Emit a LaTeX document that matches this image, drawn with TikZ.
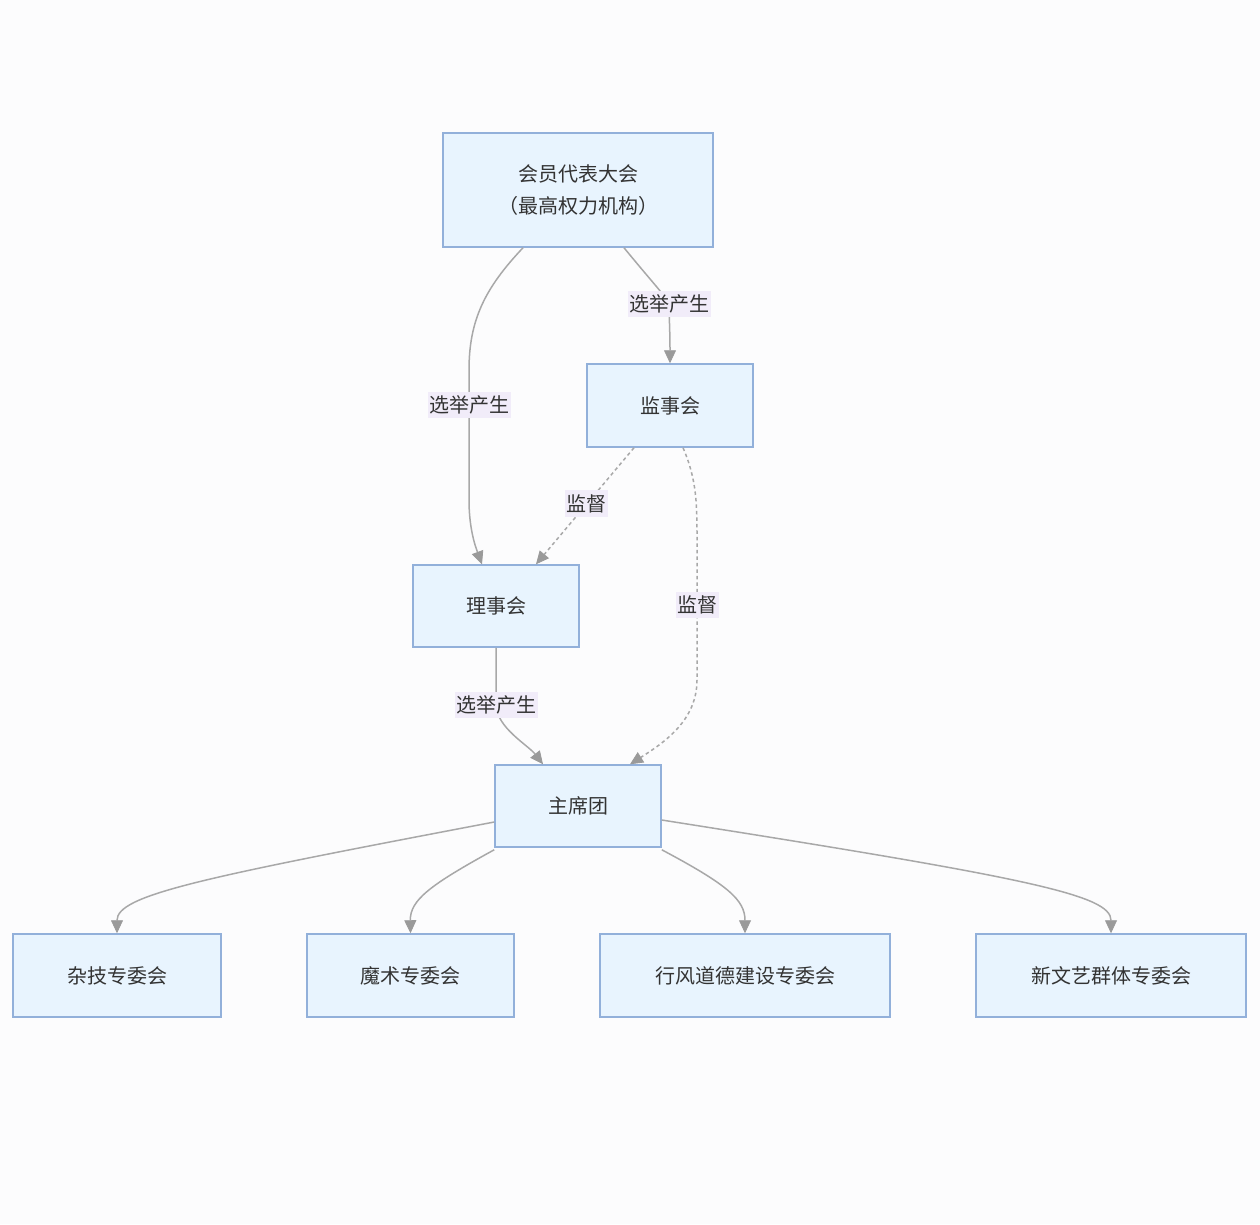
\documentclass[tikz,border=0pt]{standalone}
\usepackage{fontspec}
\setmainfont{Noto Sans CJK SC}
\usetikzlibrary{arrows.meta,calc}
\definecolor{bg}{HTML}{FCFCFD}
\definecolor{boxfill}{HTML}{E8F4FE}
\definecolor{boxline}{HTML}{92B0DA}
\definecolor{edgec}{HTML}{A8A8A8}
\definecolor{tipc}{HTML}{9A9A9A}
\definecolor{lblbg}{HTML}{F1ECF9}
\definecolor{txt}{HTML}{333333}
\begin{document}
\begin{tikzpicture}[x=1pt,y=-1pt,
  box/.style={draw=boxline,fill=boxfill,line width=1.5pt,minimum height=83pt,
    inner sep=0pt,text=txt,font=\fontsize{20}{32}\selectfont,align=center},
  link/.style={draw=edgec,line width=1.5pt,
    -{Triangle[length=13pt,width=12pt,color=tipc,fill=tipc,line width=0.8pt]}},
  dlink/.style={link,dash pattern=on 3.5pt off 3pt},
  lbl/.style={fill=lblbg,text=txt,font=\fontsize{20}{24}\selectfont,
    inner xsep=1.5pt,inner ysep=4pt,solid}
]
\path[fill=bg] (0,0) rectangle (1260,1224);

\node[box,minimum width=270pt,minimum height=114pt] (top) at (578,190)
  {会员代表大会\\（最高权力机构）};
\node[box,minimum width=166pt] (jianshi) at (670,405.5) {监事会};
\node[box,minimum width=166pt,minimum height=82pt] (lishi) at (496,606) {理事会};
\node[box,minimum width=166pt,minimum height=82pt] (zhuxi) at (578,806) {主席团};
\node[box,minimum width=208pt] (zaji) at (117,975.5) {杂技专委会};
\node[box,minimum width=207pt] (moshu) at (410.5,975.5) {魔术专委会};
\node[box,minimum width=290pt] (xingfeng) at (745,975.5) {行风道德建设专委会};
\node[box,minimum width=270pt] (xinwenyi) at (1111,975.5) {新文艺群体专委会};

% top -> lishi
\draw[link] ($(top.south)+(-55,0)$) .. controls (485,288) and (469,320) .. (469,370)
  -- (469,405) node[lbl] {选举产生}
  -- (469,500) .. controls (469,530) and (476,548) .. ($(lishi.north)+(-14,0)$);
% top -> jianshi
\draw[link] ($(top.south)+(46,0)$) .. controls (652,282) and (669,300) .. (669,304)
  node[lbl] {选举产生} .. controls (669,315) and (670,330) .. (jianshi.north);
% jianshi -> lishi (dashed)
\draw[dlink] ($(jianshi.south)+(-36,0)$) -- node[lbl,pos=0.48] {监督} ($(lishi.north)+(40,0)$);
% jianshi -> zhuxi (dashed)
\draw[dlink] ($(jianshi.south)+(13,0)$) .. controls (697,480) and (697,505) .. (697,540)
  -- (697,605) node[lbl] {监督}
  -- (697,680) .. controls (697,720) and (665,742) .. ($(zhuxi.north)+(52,0)$);
% lishi -> zhuxi
\draw[link] (lishi.south) -- (496,705) node[lbl] {选举产生}
  .. controls (497,728) and (528,745) .. ($(zhuxi.north)+(-35,0)$);
% zhuxi -> bottom row
\draw[link] ($(zhuxi.west)+(0,16)$) .. controls (200,878) and (117,895) .. (zaji.north);
\draw[link] ($(zhuxi.south west)+(0,2)$) .. controls (430,885) and (410,900) .. (moshu.north);
\draw[link] ($(zhuxi.south east)+(0,2)$) .. controls (728,885) and (745,900) .. (xingfeng.north);
\draw[link] ($(zhuxi.east)+(0,14)$) .. controls (1030,878) and (1111,895) .. (xinwenyi.north);
\end{tikzpicture}
\end{document}
